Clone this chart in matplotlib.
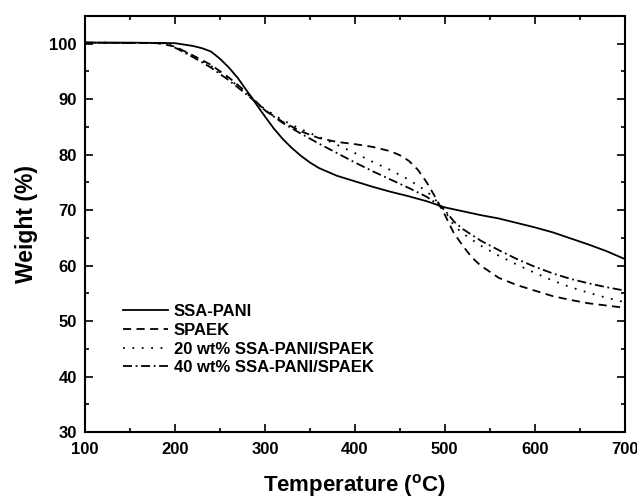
import matplotlib
matplotlib.use("Agg")
import matplotlib.pyplot as plt
from matplotlib.ticker import MultipleLocator

plt.rcParams['font.family'] = ['Liberation Sans', 'DejaVu Sans']

# --- data ---
t_pani = [100, 150, 200, 220, 230, 240, 250, 260, 270, 280, 290, 300, 310, 320, 330, 340, 350, 360,
          380, 400, 420, 440, 460, 480, 500, 520, 540, 560, 580, 600, 620, 640, 660, 680, 700]
w_pani = [100.2, 100.2, 100.1, 99.6, 99.2, 98.6, 97.3, 95.7, 93.8, 91.5, 89.2, 86.9, 84.7, 82.8, 81.2,
          79.8, 78.6, 77.6, 76.2, 75.2, 74.2, 73.3, 72.5, 71.6, 70.5, 69.8, 69.1, 68.5, 67.7, 66.9,
          66.0, 64.9, 63.8, 62.6, 61.2]

t_spaek = [100, 180, 200, 220, 240, 260, 280, 290, 300, 320, 340, 360, 380, 400, 420, 440, 450, 460,
           470, 480, 490, 500, 510, 520, 530, 540, 560, 580, 600, 620, 640, 660, 680, 700]
w_spaek = [100.2, 100.1, 99.5, 97.9, 96.2, 93.9, 91.2, 89.6, 88.0, 85.9, 84.2, 83.0, 82.3, 81.9, 81.4,
           80.6, 79.9, 78.9, 77.3, 75.0, 72.2, 69.2, 65.9, 63.6, 61.5, 60.0, 57.8, 56.5, 55.5, 54.5,
           53.8, 53.2, 52.8, 52.4]

t_20 = [100, 190, 200, 220, 240, 260, 280, 290, 300, 320, 340, 360, 380, 400, 420, 440, 460, 480,
        490, 500, 510, 520, 540, 560, 580, 600, 620, 640, 660, 680, 700]
w_20 = [100.2, 100.1, 99.4, 97.8, 96.0, 93.7, 91.0, 89.6, 88.2, 86.2, 84.6, 83.2, 81.8, 80.3, 78.7,
        77.2, 75.5, 73.4, 71.8, 69.9, 67.3, 65.8, 63.6, 61.8, 60.2, 58.7, 57.3, 56.1, 55.1, 54.2, 53.4]

t_40 = [100, 190, 200, 220, 240, 260, 280, 290, 300, 320, 340, 360, 380, 400, 420, 440, 460, 480,
        490, 500, 510, 520, 540, 560, 580, 600, 620, 640, 660, 680, 700]
w_40 = [100.2, 100.1, 99.3, 97.6, 95.7, 93.4, 90.8, 89.5, 88.0, 85.7, 83.8, 82.0, 80.3, 78.6, 77.0,
        75.5, 74.0, 72.4, 71.3, 70.0, 68.0, 66.6, 64.5, 62.8, 61.2, 59.8, 58.6, 57.6, 56.8, 56.1, 55.5]

labels = ["SSA-PANI", "SPAEK", "20 wt% SSA-PANI/SPAEK", "40 wt% SSA-PANI/SPAEK"]
x_ticks = [100, 200, 300, 400, 500, 600, 700]
y_ticks = [30, 40, 50, 60, 70, 80, 90, 100]

fig = plt.figure(figsize=(6.37, 5.0), dpi=100)
ax = fig.add_axes([0.1335, 0.136, 0.847, 0.832])

lw = 1.3
ax.plot(t_pani, w_pani, color='black', lw=lw, linestyle='-', label=labels[0])
ax.plot(t_spaek, w_spaek, color='black', lw=lw, linestyle=(0, (4.5, 3)), label=labels[1])
ax.plot(t_20, w_20, color='black', lw=lw, linestyle=(0, (1, 4.2)), label=labels[2])
ax.plot(t_40, w_40, color='black', lw=lw, linestyle=(0, (5, 2, 1, 2)), label=labels[3])

ax.set_xlim(100, 700)
ax.set_ylim(30, 105)
ax.set_xticks(x_ticks)
ax.set_yticks(y_ticks)
ax.xaxis.set_minor_locator(MultipleLocator(50))
ax.yaxis.set_minor_locator(MultipleLocator(5))
ax.tick_params(which='both', direction='in', top=True, right=True, width=1.2)
ax.tick_params(which='major', length=6, labelsize=12)
ax.tick_params(axis='x', which='major', pad=7)
ax.tick_params(axis='y', which='major', pad=6)
ax.tick_params(which='minor', length=3)
for lab in ax.get_xticklabels() + ax.get_yticklabels():
    lab.set_fontweight('bold')
for s in ax.spines.values():
    s.set_linewidth(1.5)

ax.set_xlabel("Temperature ($^{\\mathregular{o}}$C)", fontsize=16, fontweight='bold', labelpad=11)
ax.set_ylabel("Weight (%)", fontsize=16.5, fontweight='bold', labelpad=8)

leg = ax.legend(loc='upper left', bbox_to_anchor=(0.07, 0.307), frameon=False,
                prop={'weight': 'bold', 'size': 12}, handlelength=2.7, handletextpad=0.35,
                labelspacing=0.22, borderpad=0, borderaxespad=0)

fig.savefig("out.png", dpi=100)
